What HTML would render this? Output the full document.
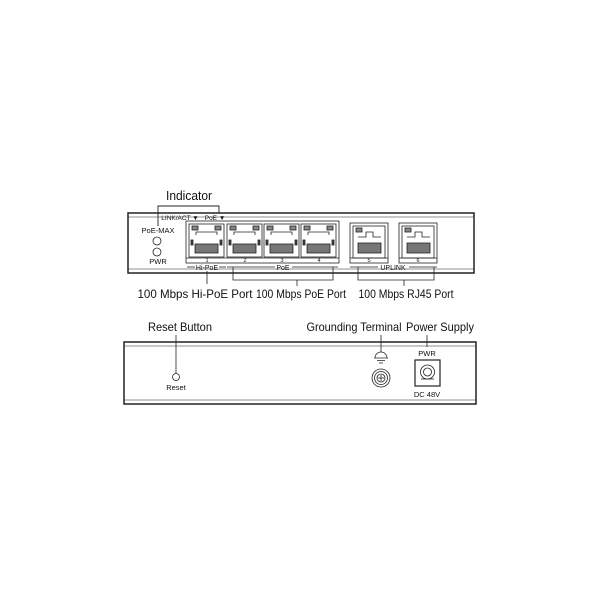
<!DOCTYPE html>
<html><head><style>body{margin:0;background:#fff}svg{display:block}</style></head><body>
<svg width="600" height="600" viewBox="0 0 600 600" font-family="Liberation Sans, sans-serif" fill="none" stroke="#222">
<!-- FRONT -->
<rect x="128" y="213" width="346" height="60" stroke-width="1.5"/>
<line x1="128" y1="217" x2="474" y2="217" stroke-width="0.6"/>
<line x1="128" y1="269" x2="474" y2="269" stroke-width="0.6"/>
<g fill="#111" stroke="none" font-size="11" text-anchor="middle">
<text x="189" y="200" font-size="12.5" textLength="46" lengthAdjust="spacingAndGlyphs">Indicator</text>
</g>
<polyline points="158,226 158,206 219,206 219,213" stroke-width="0.9"/>
<g fill="#111" stroke="none" font-size="6.5" text-anchor="middle">
<text x="180" y="220">LINK/ACT ▼</text>
<text x="215" y="220">PoE ▼</text>
<text x="158" y="233" font-size="7.5">PoE-MAX</text>
<text x="158" y="264" font-size="7.5">PWR</text>
</g>
<circle cx="157" cy="241" r="4" stroke-width="0.8"/>
<circle cx="157" cy="252" r="4" stroke-width="0.8"/>
<rect x="186" y="221" width="153" height="42" stroke-width="0.8"/>
<g stroke-width="0.8">
<g id="p"><rect x="189" y="224" width="35" height="33"/><rect x="192" y="226" width="6" height="4" fill="#888"/><rect x="215" y="226" width="6" height="4" fill="#888"/><polyline points="196,235 196,232 217,232 217,235"/><rect x="195" y="244" width="23" height="9" fill="#777"/><rect x="191" y="240" width="2" height="5" fill="#444"/><rect x="220" y="240" width="2" height="5" fill="#444"/></g>
<use href="#p" x="38"/><use href="#p" x="75"/><use href="#p" x="112"/>
<line x1="186" y1="258" x2="339" y2="258"/>
<g id="u"><rect x="350" y="223" width="38" height="40"/><rect x="353" y="226" width="32" height="32"/><rect x="356" y="228" width="6" height="4" fill="#888"/><polyline points="358,237 366,237 366,232 373,232 373,237 381,237"/><rect x="358" y="243" width="23" height="10" fill="#777"/><line x1="350" y1="258" x2="388" y2="258"/></g>
<use href="#u" x="49"/>
</g>
<g fill="#111" stroke="none" font-size="5.5" text-anchor="middle">
<text x="207" y="262">1</text><text x="245" y="262">2</text><text x="282" y="262">3</text><text x="319" y="262">4</text>
<text x="369" y="262">5</text><text x="418" y="262">6</text>
<text x="207" y="270" font-size="7">Hi-PoE</text>
<text x="283" y="270" font-size="7">PoE</text>
<text x="393" y="270" font-size="7">UPLINK</text>
</g>
<g stroke-width="0.8">
<line x1="187" y1="267" x2="195" y2="267"/><line x1="219" y1="267" x2="226" y2="267"/>
<line x1="207" y1="271" x2="207" y2="284"/>
<line x1="227" y1="267" x2="275" y2="267"/><line x1="292" y1="267" x2="338" y2="267"/>
<polyline points="233,267 233,280 333,280 333,267"/>
<line x1="350" y1="267" x2="378" y2="267"/><line x1="409" y1="267" x2="437" y2="267"/>
<polyline points="358,267 358,280 434,280 434,267"/>
<line x1="297" y1="280" x2="297" y2="286"/>
<line x1="404" y1="280" x2="404" y2="286"/>
</g>
<g fill="#111" stroke="none" font-size="12" text-anchor="middle" lengthAdjust="spacingAndGlyphs">
<text x="195" y="298" textLength="115" lengthAdjust="spacingAndGlyphs">100 Mbps Hi-PoE Port</text>
<text x="301" y="298" textLength="90" lengthAdjust="spacingAndGlyphs">100 Mbps PoE Port</text>
<text x="406" y="298" textLength="95" lengthAdjust="spacingAndGlyphs">100 Mbps RJ45 Port</text>
</g>
<!-- BACK -->
<rect x="124" y="342" width="352" height="62" stroke-width="1.5"/>
<line x1="124" y1="346" x2="476" y2="346" stroke-width="0.6"/>
<line x1="124" y1="400" x2="476" y2="400" stroke-width="0.6"/>
<g fill="#111" stroke="none" font-size="12" text-anchor="middle">
<text x="180" y="331" textLength="64" lengthAdjust="spacingAndGlyphs">Reset Button</text>
<text x="354" y="331" textLength="95" lengthAdjust="spacingAndGlyphs">Grounding Terminal</text>
<text x="440" y="331" textLength="68" lengthAdjust="spacingAndGlyphs">Power Supply</text>
</g>
<g stroke-width="0.8">
<line x1="176" y1="335" x2="176" y2="373"/>
<circle cx="176" cy="377" r="3.5"/>
<line x1="381" y1="335" x2="381" y2="352"/>
<path d="M375,358 a6,6 0 0 1 12,0 M374,358 h14 M377,360.5 h8 M379,363 h4"/>
<circle cx="381" cy="378" r="9"/><circle cx="381" cy="378" r="6.5"/><circle cx="381" cy="378" r="4"/>
<line x1="378" y1="378" x2="384" y2="378"/><line x1="381" y1="375" x2="381" y2="381"/>
<line x1="427" y1="335" x2="427" y2="347"/>
<rect x="415" y="360" width="25" height="26" stroke-width="1.2"/>
<circle cx="427.5" cy="372" r="7"/><circle cx="427.5" cy="372" r="4"/>
<path d="M421,379 h13"/>
</g>
<g fill="#111" stroke="none" font-size="7.5" text-anchor="middle">
<text x="176" y="390">Reset</text>
<text x="427" y="356">PWR</text>
<text x="427" y="397">DC 48V</text>
</g>
</svg>
</body></html>
